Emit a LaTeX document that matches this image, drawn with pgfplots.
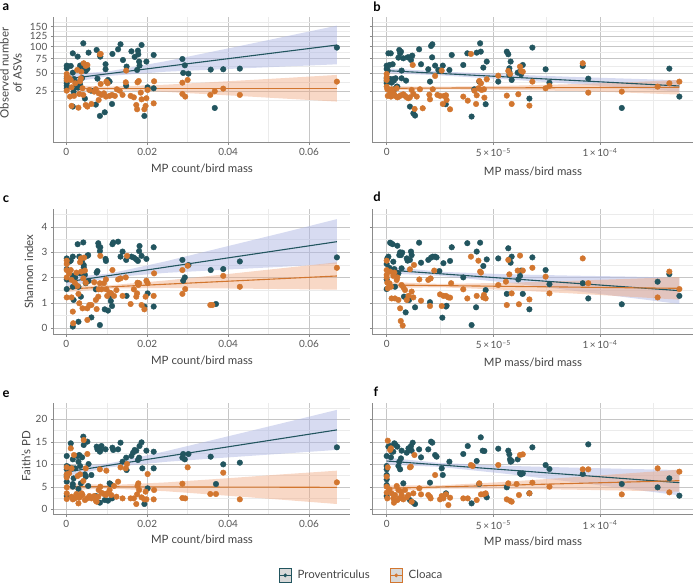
\documentclass[border=0pt]{standalone}
\usepackage{pgfplots}
\usepackage{pgfplotstable}
\pgfplotsset{compat=1.18}
\usepackage{fontspec}
\setmainfont{Lato}
\definecolor{prov}{HTML}{22555F}
\definecolor{cloa}{HTML}{D2762F}
\definecolor{provband}{HTML}{AFB8E4}
\definecolor{cloaband}{HTML}{F0A880}
\definecolor{axisgray}{HTML}{8A8A8A}
\definecolor{gridmaj}{HTML}{C6C6C6}
\definecolor{gridmin}{HTML}{EBEBEB}
\definecolor{ticktxt}{HTML}{555555}
\definecolor{titletxt}{HTML}{444444}
\definecolor{legbg}{HTML}{D9D9D9}

% ---- panel a / b : observed number of ASVs ----
\pgfplotstableread[row sep=\\]{x y\\
0.0001 62.1\\ 0.0001 57.5\\ 0.0001 41.7\\ 0.0001 37.9\\ 0.0001 34.8\\ 0.0001 31.4\\ 0.0001 28.5\\
0.0011 61.5\\ 0.0016 85.7\\ 0.0016 50.3\\ 0.0019 40.7\\ 0.0022 29.7\\ 0.0018 24.6\\ 0.0016 10.8\\
0.0028 79.0\\ 0.0034 62.1\\ 0.0036 62.1\\ 0.0038 55.2\\ 0.0030 36.1\\ 0.0034 33.4\\ 0.0029 29.3\\
0.0039 42.1\\ 0.0042 107.8\\ 0.0043 65.0\\ 0.0046 55.8\\ 0.0048 53.0\\ 0.0046 17.5\\ 0.0052 56.3\\
0.0055 87.1\\ 0.0061 25.7\\ 0.0073 12.3\\ 0.0075 92.8\\ 0.0077 41.2\\ 0.0083 82.3\\ 0.0084 79.0\\
0.0083 5.0\\ 0.0095 7.0\\ 0.0097 64.5\\ 0.0097 55.8\\ 0.0103 39.3\\ 0.0107 37.0\\ 0.0113 12.8\\
0.0114 84.4\\ 0.0128 94.3\\ 0.0134 105.5\\ 0.0140 72.4\\ 0.0149 60.4\\ 0.0148 31.8\\ 0.0161 89.9\\
0.0169 78.3\\ 0.0175 54.6\\ 0.0177 91.4\\ 0.0178 83.7\\ 0.0180 69.4\\ 0.0181 62.1\\ 0.0186 103.9\\
0.0193 5.0\\ 0.0198 69.4\\ 0.0201 29.7\\ 0.0216 82.3\\ 0.0216 28.5\\ 0.0287 74.3\\ 0.0293 62.6\\
0.0289 49.8\\ 0.0302 48.7\\ 0.0357 55.2\\ 0.0367 9.8\\ 0.0388 55.8\\ 0.0429 56.9\\ 0.0669 98.0\\
}\aP
\pgfplotstableread[row sep=\\]{x y\\
0.0001 48.2\\ 0.0001 44.1\\ 0.0001 39.3\\ 0.0001 25.7\\ 0.0007 42.1\\ 0.0011 39.3\\ 0.0013 29.7\\
0.0009 19.4\\ 0.0013 11.3\\ 0.0019 20.1\\ 0.0022 34.8\\ 0.0027 54.6\\ 0.0030 10.0\\ 0.0032 22.1\\
0.0034 37.5\\ 0.0036 41.7\\ 0.0037 51.8\\ 0.0040 28.5\\ 0.0042 21.1\\ 0.0043 66.3\\ 0.0048 61.5\\
0.0052 63.2\\ 0.0048 12.0\\ 0.0052 10.8\\ 0.0057 26.5\\ 0.0062 12.8\\ 0.0069 24.6\\ 0.0073 27.3\\
0.0080 16.2\\ 0.0080 22.8\\ 0.0085 33.9\\ 0.0087 21.1\\ 0.0083 83.7\\ 0.0085 84.4\\ 0.0093 22.8\\
0.0098 19.4\\ 0.0099 37.0\\ 0.0102 34.8\\ 0.0107 20.1\\ 0.0113 21.1\\ 0.0120 20.1\\ 0.0125 27.3\\
0.0132 25.7\\ 0.0139 21.1\\ 0.0147 36.1\\ 0.0148 53.6\\ 0.0159 20.1\\ 0.0167 18.7\\ 0.0173 12.0\\
0.0175 8.9\\ 0.0176 36.1\\ 0.0179 37.9\\ 0.0184 23.5\\ 0.0186 16.8\\ 0.0193 8.9\\ 0.0196 11.3\\
0.0198 17.8\\ 0.0201 26.5\\ 0.0217 37.5\\ 0.0216 13.3\\ 0.0287 35.6\\ 0.0287 22.1\\ 0.0294 19.4\\
0.0300 39.3\\ 0.0356 21.1\\ 0.0367 25.0\\ 0.0388 28.1\\ 0.0429 21.1\\ 0.0669 37.0\\
}\aC
\pgfplotstableread[row sep=\\]{x y\\
0 62.1\\ 0 56.3\\ 0 41.7\\ 0 37.9\\ 0 34.8\\ 0.05e-5 53.6\\ 0.08e-5 85.7\\ 0.13e-5 63.2\\
0.16e-5 40.7\\ 0.19e-5 85.7\\ 0.23e-5 35.6\\ 0.28e-5 64.5\\ 0.31e-5 40.7\\ 0.34e-5 38.4\\
0.36e-5 27.3\\ 0.42e-5 41.7\\ 0.47e-5 30.5\\ 0.50e-5 30.5\\ 0.55e-5 77.0\\ 0.59e-5 92.8\\
0.63e-5 85.7\\ 0.67e-5 89.2\\ 0.70e-5 53.6\\ 0.70e-5 41.7\\ 0.78e-5 75.7\\ 0.91e-5 38.4\\
0.98e-5 77.6\\ 1.05e-5 77.6\\ 1.09e-5 10.8\\ 1.14e-5 72.4\\ 1.20e-5 81.0\\ 1.25e-5 6.4\\
1.33e-5 5.2\\ 1.52e-5 94.3\\ 1.61e-5 64.5\\ 1.95e-5 55.8\\ 2.03e-5 37.0\\ 2.08e-5 101.6\\
2.14e-5 105.5\\ 2.13e-5 77.6\\ 2.27e-5 62.1\\ 2.42e-5 54.6\\ 2.50e-5 53.6\\ 2.63e-5 62.1\\
2.77e-5 12.6\\ 2.94e-5 54.6\\ 3.05e-5 82.3\\ 3.59e-5 63.2\\ 3.78e-5 85.7\\ 3.98e-5 4.7\\
4.11e-5 27.3\\ 4.22e-5 87.1\\ 4.34e-5 37.0\\ 4.38e-5 107.8\\ 4.41e-5 89.2\\ 4.53e-5 58.6\\
4.64e-5 12.6\\ 4.69e-5 69.4\\ 5.23e-5 37.0\\ 5.63e-5 89.2\\ 5.70e-5 83.7\\ 5.75e-5 57.5\\
5.81e-5 69.4\\ 5.75e-5 51.8\\ 5.75e-5 46.7\\ 5.86e-5 39.3\\ 6.14e-5 50.3\\ 6.25e-5 51.8\\
6.30e-5 47.7\\ 6.38e-5 63.2\\ 6.69e-5 17.5\\ 6.83e-5 98.0\\ 7.45e-5 55.8\\ 7.63e-5 35.6\\
9.19e-5 61.5\\ 9.45e-5 41.2\\ 11.02e-5 9.8\\ 13.25e-5 56.9\\ 13.72e-5 19.4\\
}\bP
\pgfplotstableread[row sep=\\]{x y\\
0 48.2\\ 0 43.2\\ 0 39.3\\ 0 30.5\\ 0.03e-5 27.3\\ 0.05e-5 20.1\\ 0.13e-5 26.5\\ 0.16e-5 22.8\\
0.20e-5 19.4\\ 0.23e-5 27.3\\ 0.31e-5 23.5\\ 0.36e-5 21.1\\ 0.39e-5 20.1\\ 0.47e-5 28.5\\
0.50e-5 18.7\\ 0.58e-5 19.4\\ 0.66e-5 20.7\\ 0.78e-5 21.8\\ 0.86e-5 20.1\\ 0.94e-5 18.7\\
1.02e-5 17.8\\ 1.09e-5 18.7\\ 1.17e-5 26.5\\ 1.22e-5 63.2\\ 1.25e-5 22.1\\ 1.31e-5 9.1\\
1.41e-5 19.4\\ 1.56e-5 27.3\\ 1.69e-5 9.6\\ 2.00e-5 21.4\\ 2.03e-5 16.8\\ 2.16e-5 27.3\\
2.27e-5 45.1\\ 2.38e-5 21.1\\ 2.50e-5 20.1\\ 2.58e-5 53.6\\ 2.63e-5 12.8\\ 2.69e-5 20.1\\
2.78e-5 20.7\\ 2.81e-5 16.2\\ 2.97e-5 8.9\\ 3.59e-5 19.4\\ 3.80e-5 15.6\\ 3.95e-5 84.4\\
4.11e-5 25.7\\ 4.19e-5 12.8\\ 4.22e-5 20.7\\ 4.30e-5 28.5\\ 4.34e-5 37.9\\ 4.42e-5 34.8\\
4.45e-5 26.5\\ 4.56e-5 27.3\\ 4.58e-5 18.4\\ 4.69e-5 40.3\\ 5.23e-5 45.6\\ 5.63e-5 20.4\\
5.70e-5 53.0\\ 5.78e-5 48.2\\ 5.86e-5 12.8\\ 6.17e-5 21.8\\ 6.25e-5 60.4\\ 6.30e-5 53.0\\
6.38e-5 51.8\\ 6.69e-5 11.5\\ 6.83e-5 37.0\\ 7.45e-5 28.5\\ 7.63e-5 31.4\\ 9.19e-5 66.3\\
9.45e-5 23.5\\ 11.02e-5 24.6\\ 12.70e-5 30.5\\ 13.25e-5 34.8\\ 13.72e-5 37.0\\
}\bC

% ---- panel c / d : Shannon index ----
\pgfplotstableread[row sep=\\]{x y\\
0.0001 2.76\\ 0.0001 2.34\\ 0.0001 1.93\\ 0.0001 1.55\\ 0.0007 2.63\\ 0.0011 2.67\\ 0.0016 2.83\\
0.0016 2.07\\ 0.0016 1.64\\ 0.0016 0.07\\ 0.0018 1.12\\ 0.0022 2.01\\ 0.0028 3.32\\ 0.0030 1.64\\
0.0030 0.26\\ 0.0032 2.83\\ 0.0034 2.17\\ 0.0036 1.25\\ 0.0039 2.67\\ 0.0042 3.39\\ 0.0043 2.50\\
0.0043 2.41\\ 0.0046 2.11\\ 0.0048 1.78\\ 0.0052 2.86\\ 0.0054 2.89\\ 0.0055 1.87\\ 0.0062 0.43\\
0.0073 1.54\\ 0.0075 2.20\\ 0.0077 2.26\\ 0.0079 3.36\\ 0.0080 3.25\\ 0.0083 3.05\\ 0.0083 0.13\\
0.0084 3.20\\ 0.0097 2.74\\ 0.0098 2.66\\ 0.0095 0.75\\ 0.0103 0.70\\ 0.0107 1.28\\ 0.0110 1.08\\
0.0113 0.88\\ 0.0114 3.32\\ 0.0116 3.39\\ 0.0128 3.42\\ 0.0134 2.83\\ 0.0139 3.03\\ 0.0148 2.70\\
0.0149 1.28\\ 0.0161 2.83\\ 0.0167 2.79\\ 0.0173 2.72\\ 0.0177 2.66\\ 0.0180 3.05\\ 0.0181 3.25\\
0.0186 2.86\\ 0.0193 0.86\\ 0.0198 2.74\\ 0.0201 1.38\\ 0.0216 3.20\\ 0.0216 0.86\\ 0.0287 2.70\\
0.0289 1.88\\ 0.0293 2.01\\ 0.0302 2.50\\ 0.0357 2.30\\ 0.0370 0.96\\ 0.0388 2.34\\ 0.0429 2.64\\
0.0669 2.80\\
}\cP
\pgfplotstableread[row sep=\\]{x y\\
0.0001 2.67\\ 0.0001 2.54\\ 0.0001 2.30\\ 0.0001 2.01\\ 0.0001 1.22\\ 0.0007 2.17\\ 0.0011 2.30\\
0.0013 1.91\\ 0.0013 1.22\\ 0.0016 0.66\\ 0.0017 0.20\\ 0.0021 1.80\\ 0.0025 2.20\\ 0.0028 1.67\\
0.0030 1.36\\ 0.0032 0.99\\ 0.0034 2.61\\ 0.0036 2.76\\ 0.0037 2.24\\ 0.0040 0.79\\ 0.0042 1.97\\
0.0044 2.79\\ 0.0046 2.28\\ 0.0048 1.80\\ 0.0052 0.33\\ 0.0052 0.79\\ 0.0057 0.92\\ 0.0062 0.92\\
0.0069 1.82\\ 0.0073 1.12\\ 0.0075 0.76\\ 0.0079 1.25\\ 0.0080 1.54\\ 0.0083 1.78\\ 0.0084 2.86\\
0.0087 1.54\\ 0.0093 1.78\\ 0.0098 1.93\\ 0.0099 1.54\\ 0.0101 1.28\\ 0.0107 1.41\\ 0.0111 1.38\\
0.0114 2.30\\ 0.0118 1.28\\ 0.0124 1.51\\ 0.0128 1.93\\ 0.0134 1.97\\ 0.0139 1.28\\ 0.0147 2.01\\
0.0150 2.86\\ 0.0159 0.96\\ 0.0167 1.54\\ 0.0173 1.25\\ 0.0175 1.38\\ 0.0176 1.80\\ 0.0178 1.71\\
0.0180 1.78\\ 0.0186 0.92\\ 0.0193 0.75\\ 0.0196 1.25\\ 0.0198 1.88\\ 0.0201 1.78\\ 0.0217 2.17\\
0.0216 1.28\\ 0.0287 2.30\\ 0.0287 1.36\\ 0.0294 1.55\\ 0.0300 2.47\\ 0.0356 0.92\\ 0.0361 0.92\\
0.0388 2.07\\ 0.0429 1.64\\ 0.0669 2.39\\
}\cC
\pgfplotstableread[row sep=\\]{x y\\
0 2.54\\ 0 1.93\\ 0 1.55\\ 0.03e-5 2.76\\ 0.08e-5 2.83\\ 0.13e-5 2.39\\ 0.16e-5 3.38\\
0.20e-5 3.36\\ 0.28e-5 3.32\\ 0.31e-5 2.63\\ 0.36e-5 2.34\\ 0.39e-5 1.64\\ 0.42e-5 2.13\\
0.50e-5 3.26\\ 0.55e-5 2.17\\ 0.59e-5 2.89\\ 0.63e-5 3.00\\ 0.67e-5 2.89\\ 0.70e-5 2.37\\
0.73e-5 2.99\\ 0.81e-5 1.25\\ 0.89e-5 0.63\\ 0.94e-5 2.76\\ 0.98e-5 2.67\\ 1.05e-5 1.12\\
1.09e-5 2.70\\ 1.14e-5 3.03\\ 1.17e-5 2.89\\ 1.33e-5 0.83\\ 1.52e-5 3.38\\ 1.61e-5 2.59\\
1.95e-5 2.70\\ 2.03e-5 1.03\\ 2.08e-5 2.79\\ 2.16e-5 2.83\\ 2.27e-5 2.83\\ 2.34e-5 2.80\\
2.47e-5 2.26\\ 2.61e-5 0.42\\ 2.66e-5 2.57\\ 2.78e-5 0.86\\ 2.81e-5 0.89\\ 2.97e-5 2.66\\
3.05e-5 3.20\\ 3.59e-5 2.01\\ 3.78e-5 3.36\\ 3.98e-5 0.13\\ 4.19e-5 0.83\\ 4.22e-5 3.03\\
4.38e-5 3.38\\ 4.53e-5 2.46\\ 4.64e-5 1.51\\ 4.69e-5 2.72\\ 5.23e-5 2.76\\ 5.63e-5 1.36\\
5.70e-5 3.16\\ 5.75e-5 2.72\\ 5.81e-5 2.59\\ 5.86e-5 2.83\\ 6.17e-5 1.93\\ 6.25e-5 2.07\\
6.30e-5 2.28\\ 6.38e-5 1.36\\ 6.69e-5 0.75\\ 6.83e-5 2.80\\ 7.45e-5 2.30\\ 7.63e-5 1.74\\
9.19e-5 1.78\\ 9.45e-5 1.18\\ 11.02e-5 0.95\\ 12.70e-5 1.84\\ 13.25e-5 2.14\\ 13.72e-5 1.28\\
}\dP
\pgfplotstableread[row sep=\\]{x y\\
0 2.67\\ 0 2.30\\ 0 2.11\\ 0 2.01\\ 0.03e-5 1.80\\ 0.05e-5 1.58\\ 0.13e-5 1.78\\ 0.16e-5 2.24\\
0.20e-5 1.64\\ 0.23e-5 1.18\\ 0.31e-5 2.07\\ 0.36e-5 2.20\\ 0.39e-5 1.18\\ 0.47e-5 1.91\\
0.50e-5 2.01\\ 0.55e-5 1.12\\ 0.63e-5 0.79\\ 0.66e-5 0.29\\ 0.70e-5 1.71\\ 0.75e-5 0.11\\
0.78e-5 1.62\\ 0.86e-5 1.51\\ 0.94e-5 1.12\\ 1.02e-5 1.28\\ 1.09e-5 2.33\\ 1.17e-5 1.45\\
1.25e-5 1.22\\ 1.28e-5 2.50\\ 1.53e-5 1.93\\ 1.61e-5 1.09\\ 1.95e-5 1.91\\ 2.03e-5 0.88\\
2.06e-5 1.97\\ 2.23e-5 2.28\\ 2.50e-5 1.34\\ 2.58e-5 0.88\\ 2.66e-5 1.28\\ 2.78e-5 1.28\\
2.89e-5 1.22\\ 2.97e-5 1.21\\ 3.02e-5 1.78\\ 3.59e-5 1.54\\ 3.78e-5 1.18\\ 3.95e-5 2.83\\
4.22e-5 1.28\\ 4.30e-5 2.67\\ 4.38e-5 2.24\\ 4.42e-5 2.20\\ 4.53e-5 1.22\\ 4.56e-5 1.32\\
4.64e-5 1.18\\ 5.23e-5 1.71\\ 5.59e-5 1.84\\ 5.63e-5 0.92\\ 5.70e-5 2.70\\ 5.75e-5 2.13\\
5.86e-5 1.38\\ 6.14e-5 2.28\\ 6.20e-5 0.95\\ 6.25e-5 2.87\\ 6.38e-5 2.28\\ 6.69e-5 1.14\\
6.83e-5 2.39\\ 7.45e-5 2.04\\ 7.63e-5 1.38\\ 9.19e-5 2.76\\ 9.45e-5 1.78\\ 12.70e-5 1.22\\
13.25e-5 2.24\\ 13.72e-5 1.55\\
}\dC

% ---- panel e / f : Faith's PD ----
\pgfplotstableread[row sep=\\]{x y\\
0.0001 11.85\\ 0.0001 9.63\\ 0.0001 8.89\\ 0.0001 7.63\\ 0.0001 7.26\\ 0.0001 6.15\\ 0.0001 2.96\\
0.0007 9.33\\ 0.0011 14.67\\ 0.0016 11.11\\ 0.0016 9.11\\ 0.0016 5.63\\ 0.0016 5.04\\ 0.0018 6.89\\
0.0022 9.11\\ 0.0028 11.85\\ 0.0030 10.59\\ 0.0030 4.52\\ 0.0032 12.07\\ 0.0034 9.63\\ 0.0036 5.78\\
0.0039 11.56\\ 0.0042 16.15\\ 0.0043 14.30\\ 0.0046 7.78\\ 0.0048 7.26\\ 0.0052 15.04\\ 0.0054 5.19\\
0.0055 10.07\\ 0.0062 7.63\\ 0.0073 2.96\\ 0.0075 13.93\\ 0.0077 13.33\\ 0.0079 13.56\\ 0.0083 12.81\\
0.0083 1.48\\ 0.0084 13.19\\ 0.0087 14.07\\ 0.0095 2.07\\ 0.0097 13.33\\ 0.0103 1.93\\ 0.0107 5.78\\
0.0110 5.56\\ 0.0113 2.44\\ 0.0114 13.70\\ 0.0116 13.19\\ 0.0128 13.33\\ 0.0134 14.81\\ 0.0139 10.59\\
0.0148 11.48\\ 0.0149 8.74\\ 0.0161 11.85\\ 0.0165 12.59\\ 0.0169 13.19\\ 0.0173 13.04\\ 0.0177 10.96\\
0.0180 11.48\\ 0.0181 14.07\\ 0.0186 14.89\\ 0.0188 9.11\\ 0.0193 1.19\\ 0.0198 13.04\\ 0.0201 4.67\\
0.0216 12.81\\ 0.0216 9.11\\ 0.0287 11.48\\ 0.0289 12.30\\ 0.0293 11.11\\ 0.0302 12.30\\ 0.0357 11.70\\
0.0370 5.63\\ 0.0388 10.00\\ 0.0429 10.37\\ 0.0669 13.78\\
}\eP
\pgfplotstableread[row sep=\\]{x y\\
0.0001 9.33\\ 0.0001 7.78\\ 0.0001 7.11\\ 0.0001 4.89\\ 0.0001 3.56\\ 0.0001 2.30\\ 0.0007 8.00\\
0.0011 13.56\\ 0.0013 9.11\\ 0.0013 2.81\\ 0.0016 2.22\\ 0.0019 12.07\\ 0.0021 2.44\\ 0.0025 3.41\\
0.0028 7.41\\ 0.0030 1.33\\ 0.0032 2.59\\ 0.0034 7.78\\ 0.0036 2.96\\ 0.0038 3.56\\ 0.0040 3.19\\
0.0042 6.30\\ 0.0043 15.41\\ 0.0046 2.07\\ 0.0048 9.11\\ 0.0052 12.30\\ 0.0052 2.44\\ 0.0057 2.96\\
0.0062 2.44\\ 0.0069 2.96\\ 0.0073 1.93\\ 0.0075 1.70\\ 0.0079 2.81\\ 0.0080 4.30\\ 0.0083 8.89\\
0.0084 5.04\\ 0.0087 3.70\\ 0.0093 3.41\\ 0.0098 3.19\\ 0.0099 8.59\\ 0.0101 3.56\\ 0.0107 4.30\\
0.0111 3.19\\ 0.0118 5.19\\ 0.0124 2.81\\ 0.0128 6.15\\ 0.0134 9.33\\ 0.0139 2.44\\ 0.0147 9.11\\
0.0150 10.07\\ 0.0159 2.44\\ 0.0167 2.44\\ 0.0173 1.19\\ 0.0175 3.33\\ 0.0176 5.19\\ 0.0178 5.78\\
0.0180 4.30\\ 0.0186 2.67\\ 0.0193 2.22\\ 0.0196 3.93\\ 0.0198 2.22\\ 0.0201 7.85\\ 0.0217 4.30\\
0.0216 2.22\\ 0.0287 5.70\\ 0.0287 2.52\\ 0.0294 2.44\\ 0.0300 9.33\\ 0.0356 3.41\\ 0.0370 3.41\\
0.0388 8.15\\ 0.0429 2.22\\ 0.0669 6.00\\
}\eC
\pgfplotstableread[row sep=\\]{x y\\
0 11.85\\ 0 9.63\\ 0 8.89\\ 0 7.63\\ 0 6.67\\ 0 5.41\\ 0 2.96\\ 0.08e-5 13.93\\ 0.16e-5 14.07\\
0.20e-5 11.56\\ 0.23e-5 12.81\\ 0.31e-5 12.81\\ 0.36e-5 14.67\\ 0.42e-5 14.30\\ 0.50e-5 13.93\\
0.55e-5 9.63\\ 0.59e-5 10.59\\ 0.63e-5 8.89\\ 0.67e-5 11.33\\ 0.70e-5 13.04\\ 0.78e-5 5.78\\
0.94e-5 12.59\\ 1.02e-5 13.56\\ 1.05e-5 13.19\\ 1.09e-5 2.07\\ 1.14e-5 14.07\\ 1.17e-5 13.04\\
1.22e-5 14.81\\ 1.25e-5 1.48\\ 1.33e-5 1.19\\ 1.52e-5 13.33\\ 1.61e-5 11.56\\ 1.95e-5 13.33\\
2.03e-5 5.93\\ 2.08e-5 15.04\\ 2.14e-5 14.81\\ 2.27e-5 12.07\\ 2.34e-5 11.70\\ 2.58e-5 9.11\\
2.63e-5 7.63\\ 2.78e-5 3.56\\ 2.94e-5 10.59\\ 3.59e-5 12.30\\ 3.80e-5 14.07\\ 3.98e-5 1.33\\
4.22e-5 10.74\\ 4.34e-5 5.63\\ 4.41e-5 16.00\\ 4.50e-5 13.04\\ 4.58e-5 12.96\\ 4.64e-5 3.19\\
4.69e-5 2.67\\ 5.23e-5 13.48\\ 5.63e-5 4.89\\ 5.70e-5 13.04\\ 5.75e-5 12.22\\ 5.81e-5 10.59\\
5.78e-5 11.11\\ 5.86e-5 10.74\\ 6.14e-5 11.11\\ 6.25e-5 8.00\\ 6.30e-5 7.78\\ 6.38e-5 8.00\\
6.69e-5 3.56\\ 6.83e-5 13.78\\ 7.45e-5 9.85\\ 7.63e-5 8.96\\ 9.19e-5 7.85\\ 9.45e-5 14.44\\
11.02e-5 5.63\\ 12.70e-5 4.89\\ 13.25e-5 6.89\\ 13.72e-5 3.04\\
}\fP
\pgfplotstableread[row sep=\\]{x y\\
0.05e-5 15.26\\ 0.05e-5 9.33\\ 0 7.26\\ 0 5.04\\ 0 3.70\\ 0.03e-5 2.44\\ 0.13e-5 4.44\\
0.16e-5 13.19\\ 0.20e-5 13.56\\ 0.23e-5 3.56\\ 0.31e-5 2.44\\ 0.34e-5 1.48\\ 0.39e-5 3.19\\
0.47e-5 5.19\\ 0.50e-5 2.07\\ 0.55e-5 4.30\\ 0.59e-5 2.44\\ 0.67e-5 3.93\\ 0.70e-5 3.19\\
0.78e-5 2.22\\ 0.86e-5 4.30\\ 0.94e-5 2.67\\ 1.02e-5 3.19\\ 1.09e-5 9.33\\ 1.13e-5 9.48\\
1.17e-5 1.70\\ 1.25e-5 3.56\\ 1.30e-5 12.07\\ 1.53e-5 4.67\\ 1.61e-5 3.33\\ 1.95e-5 3.19\\
2.03e-5 2.81\\ 2.06e-5 2.44\\ 2.27e-5 7.63\\ 2.50e-5 2.22\\ 2.58e-5 2.96\\ 2.66e-5 2.44\\
2.78e-5 3.33\\ 2.89e-5 0.96\\ 2.97e-5 2.59\\ 3.59e-5 2.44\\ 3.80e-5 2.44\\ 3.95e-5 9.85\\
4.03e-5 9.63\\ 4.22e-5 2.07\\ 4.34e-5 5.78\\ 4.42e-5 3.33\\ 4.53e-5 3.33\\ 4.64e-5 3.56\\
5.23e-5 9.85\\ 5.63e-5 2.22\\ 5.70e-5 5.78\\ 5.78e-5 1.93\\ 5.86e-5 1.70\\ 6.09e-5 5.63\\
6.20e-5 3.19\\ 6.25e-5 12.07\\ 6.38e-5 12.22\\ 6.69e-5 3.56\\ 6.83e-5 5.93\\ 7.63e-5 5.04\\
9.19e-5 8.89\\ 9.45e-5 8.89\\ 11.02e-5 3.33\\ 12.70e-5 9.11\\ 13.25e-5 3.78\\ 13.72e-5 8.37\\
}\fC

\pgfplotsset{
  base/.style={
    scale only axis, anchor=north west,
    axis x line*=bottom, axis y line*=left,
    axis line style={draw=axisgray, line width=0.6bp},
    every tick/.style={draw=axisgray, line width=0.5bp},
    tick align=outside, major tick length=2.5bp, minor tick length=0pt,
    grid=both,
    major grid style={draw=gridmaj, line width=0.6bp},
    minor grid style={draw=gridmin, line width=0.45bp},
    tick label style={font=\fontsize{10}{12}\selectfont, text=ticktxt},
    /pgf/number format/assume math mode=true,
    scaled x ticks=false, scaled y ticks=false,
  },
  leftp/.style={base, width=296.7bp, xmin=-0.00322, xmax=0.07014,
    xtick={0,0.02,0.04,0.06}, xticklabels={0,0.02,0.04,0.06},
    minor xtick={0.01,0.03,0.05}},
  rightp/.style={base, width=320.7bp, xmin=-6.74e-6, xmax=1.4359e-4,
    xtick={0,5e-5,1e-4},
    xticklabels={0, 5\,×\,10\textsuperscript{–5}, 1\,×\,10\textsuperscript{–4}},
    minor xtick={2.5e-5,7.5e-5,1.25e-4}},
  row1/.style={height=125.3bp, ymin=-0.72, ymax=13.33,
    ytick={5,7.0711,8.6603,10,11.1803,12.2474},
    yticklabels={25,50,75,100,125,150},
    minor ytick={3.96,6.036,7.866,9.330,10.590,11.714,12.78}},
  row2/.style={height=125bp, ymin=-0.224, ymax=4.71,
    ytick={0,1,2,3,4}, minor ytick={0.5,1.5,2.5,3.5,4.5}},
  row3/.style={height=111.4bp, ymin=-1.19, ymax=23.56,
    ytick={0,5,10,15,20}, minor ytick={2.5,7.5,12.5,17.5,22.5}},
  pband/.style={fill=provband, draw=none, fill opacity=0.5},
  cband/.style={fill=cloaband, draw=none, fill opacity=0.45},
  ppts/.style={only marks, mark=*, mark size=2.8bp, color=prov},
  cpts/.style={only marks, mark=*, mark size=2.8bp, color=cloa},
  pline/.style={no marks, draw=prov, line width=1.1bp},
  cline/.style={no marks, draw=cloa, line width=1.1bp},
}

\begin{document}
\begin{tikzpicture}
\path[use as bounding box] (0,0) rectangle (694bp,-585bp);

% a
\begin{axis}[leftp, row1, at={(53.3bp,-17bp)}]
\addplot[pband] table[y expr=sqrt(\thisrow{y}), row sep=\\]{x y\\ 0 47.2\\ 0.0107 52.6\\ 0.0247 70.3\\ 0.0411 98.2\\ 0.0534 122.6\\ 0.0669 152.7\\ 0.0669 64.4\\ 0.0534 60.3\\ 0.0411 56.6\\ 0.0247 51.8\\ 0.0107 45.3\\ 0 34.8\\};
\addplot[cband] table[y expr=sqrt(\thisrow{y}), row sep=\\]{x y\\ 0 32.2\\ 0.0107 30.5\\ 0.0247 33.0\\ 0.0411 37.9\\ 0.0534 41.9\\ 0.0669 46.7\\ 0.0669 14.8\\ 0.0534 17.6\\ 0.0411 20.4\\ 0.0247 24.3\\ 0.0107 26.5\\ 0 25.0\\};
\addplot[ppts] table[y expr=sqrt(\thisrow{y})]{\aP};
\addplot[cpts] table[y expr=sqrt(\thisrow{y})]{\aC};
\addplot[pline] table[y expr=sqrt(\thisrow{y}), row sep=\\]{x y\\ 0 40.7\\ 0.0669 103.8\\};
\addplot[cline] table[y expr=sqrt(\thisrow{y}), row sep=\\]{x y\\ 0 28.5\\ 0.0669 28.5\\};
\end{axis}

% b
\begin{axis}[rightp, row1, yticklabels={}, at={(372.3bp,-17bp)}]
\addplot[pband] table[y expr=sqrt(\thisrow{y}), row sep=\\]{x y\\ 0 57.4\\ 2.5e-5 52.2\\ 5.625e-5 47.5\\ 8.75e-5 43.7\\ 11.09e-5 41.4\\ 13.72e-5 38.9\\ 13.72e-5 24.6\\ 11.09e-5 29.4\\ 8.75e-5 34.0\\ 5.625e-5 40.1\\ 2.5e-5 46.0\\ 0 49.8\\};
\addplot[cband] table[y expr=sqrt(\thisrow{y}), row sep=\\]{x y\\ 0 30.9\\ 2.5e-5 30.4\\ 5.625e-5 31.5\\ 8.75e-5 33.7\\ 11.09e-5 35.9\\ 13.72e-5 39.3\\ 13.72e-5 21.4\\ 11.09e-5 23.7\\ 8.75e-5 25.2\\ 5.625e-5 26.7\\ 2.5e-5 27.2\\ 0 26.1\\};
\addplot[ppts] table[y expr=sqrt(\thisrow{y})]{\bP};
\addplot[cpts] table[y expr=sqrt(\thisrow{y})]{\bC};
\addplot[pline] table[y expr=sqrt(\thisrow{y}), row sep=\\]{x y\\ 0 53.5\\ 13.72e-5 31.3\\};
\addplot[cline] table[y expr=sqrt(\thisrow{y}), row sep=\\]{x y\\ 0 28.5\\ 13.72e-5 29.7\\};
\end{axis}

% c
\begin{axis}[leftp, row2, at={(53.3bp,-209bp)}]
\addplot[pband] table[row sep=\\]{x y\\ 0 2.01\\ 0.0107 2.16\\ 0.0247 2.65\\ 0.0411 3.29\\ 0.0534 3.77\\ 0.0669 4.31\\ 0.0669 2.545\\ 0.0534 2.43\\ 0.0411 2.33\\ 0.0247 2.19\\ 0.0107 2.005\\ 0 1.64\\};
\addplot[cband] table[row sep=\\]{x y\\ 0 1.674\\ 0.0107 1.700\\ 0.0247 1.891\\ 0.0411 2.163\\ 0.0534 2.374\\ 0.0669 2.605\\ 0.0669 1.526\\ 0.0534 1.55\\ 0.0411 1.571\\ 0.0247 1.593\\ 0.0107 1.568\\ 0 1.432\\};
\addplot[ppts] table{\cP};
\addplot[cpts] table{\cC};
\addplot[pline] coordinates {(0,1.83) (0.0669,3.42)};
\addplot[cline] coordinates {(0,1.553) (0.0669,2.066)};
\end{axis}

% d
\begin{axis}[rightp, row2, yticklabels={}, at={(372.3bp,-209bp)}]
\addplot[pband] table[row sep=\\]{x y\\ 0 2.443\\ 2.5e-5 2.233\\ 5.625e-5 2.133\\ 8.75e-5 2.080\\ 11.09e-5 2.047\\ 13.72e-5 2.0\\ 13.72e-5 0.961\\ 11.09e-5 1.24\\ 8.75e-5 1.486\\ 5.625e-5 1.804\\ 2.5e-5 2.075\\ 0 2.161\\};
\addplot[cband] table[row sep=\\]{x y\\ 0 1.829\\ 2.5e-5 1.753\\ 5.625e-5 1.796\\ 8.75e-5 1.879\\ 11.09e-5 1.947\\ 13.72e-5 2.026\\ 13.72e-5 1.132\\ 11.09e-5 1.261\\ 8.75e-5 1.374\\ 5.625e-5 1.517\\ 2.5e-5 1.621\\ 0 1.592\\};
\addplot[ppts] table{\dP};
\addplot[cpts] table{\dC};
\addplot[pline] coordinates {(0,2.303) (13.72e-5,1.487)};
\addplot[cline] coordinates {(0,1.711) (13.72e-5,1.579)};
\end{axis}

% e
\begin{axis}[leftp, row3, at={(53.3bp,-403.3bp)},
  legend style={at={(1.039,-0.545)}, anchor=center, draw=none, fill=none,
    legend columns=2, font=\fontsize{11.5}{13.5}\selectfont, text=titletxt,
    /tikz/every odd column/.append style={column sep=4bp},
    /tikz/every even column/.append style={column sep=18bp}},
  legend cell align=left]
\addlegendimage{legend image code/.code={
  \draw[draw=prov, fill=legbg, line width=0.9bp] (0bp,-7bp) rectangle (12bp,7bp);
  \draw[prov, line width=1.1bp] (0.5bp,0bp) -- (11.5bp,0bp);
  \fill[prov] (6bp,0bp) circle (1.7bp);}}
\addlegendentry{Proventriculus}
\addlegendimage{legend image code/.code={
  \draw[draw=cloa, fill=legbg, line width=0.9bp] (0bp,-7bp) rectangle (12bp,7bp);
  \draw[cloa, line width=1.1bp] (0.5bp,0bp) -- (11.5bp,0bp);
  \fill[cloa] (6bp,0bp) circle (1.7bp);}}
\addlegendentry{Cloaca}
\addplot[pband] table[row sep=\\]{x y\\ 0 9.24\\ 0.0107 10.23\\ 0.0247 12.93\\ 0.0411 16.47\\ 0.0534 19.14\\ 0.0669 22.1\\ 0.0669 13.21\\ 0.0534 12.37\\ 0.0411 11.61\\ 0.0247 10.56\\ 0.0107 9.34\\ 0 7.35\\};
\addplot[cband] table[row sep=\\]{x y\\ 0 5.83\\ 0.0107 5.39\\ 0.0247 5.99\\ 0.0411 6.99\\ 0.0534 7.78\\ 0.0669 8.59\\ 0.0669 1.19\\ 0.0534 2.13\\ 0.0411 2.95\\ 0.0247 4.02\\ 0.0107 4.64\\ 0 4.24\\};
\addplot[ppts] table{\eP};
\addplot[cpts] table{\eC};
\addplot[pline] coordinates {(0,8.30) (0.0669,17.65)};
\addplot[cline] coordinates {(0,5.04) (0.0669,4.89)};
\end{axis}

% f
\begin{axis}[rightp, row3, yticklabels={}, at={(372.3bp,-403.3bp)}]
\addplot[pband] table[row sep=\\]{x y\\ 0 11.50\\ 2.5e-5 10.31\\ 5.625e-5 9.66\\ 8.75e-5 9.27\\ 11.09e-5 9.01\\ 13.72e-5 8.74\\ 13.72e-5 3.11\\ 11.09e-5 4.69\\ 8.75e-5 6.08\\ 5.625e-5 7.88\\ 2.5e-5 9.42\\ 0 9.98\\};
\addplot[cband] table[row sep=\\]{x y\\ 0 5.30\\ 2.5e-5 5.33\\ 5.625e-5 6.13\\ 8.75e-5 7.14\\ 11.09e-5 7.92\\ 13.72e-5 8.81\\ 13.72e-5 3.93\\ 11.09e-5 4.17\\ 8.75e-5 4.37\\ 5.625e-5 4.59\\ 2.5e-5 4.61\\ 0 4.01\\};
\addplot[ppts] table{\fP};
\addplot[cpts] table{\fC};
\addplot[pline] coordinates {(0,10.74) (13.72e-5,5.93)};
\addplot[cline] coordinates {(0,4.67) (13.72e-5,6.37)};
\end{axis}

% axis titles and panel letters
\begin{scope}[every node/.style={font=\fontsize{11.5}{13}\selectfont, text=titletxt}]
\node[rotate=90, align=center] at (11bp,-73bp) {Observed number\\of ASVs};
\node[rotate=90] at (29bp,-271.5bp) {Shannon index};
\node[rotate=90] at (26bp,-456bp) {Faith's PD};
\node at (202bp,-169bp) {MP count/bird mass};
\node at (533bp,-171.5bp) {MP mass/bird mass};
\node at (202bp,-360.5bp) {MP count/bird mass};
\node at (533bp,-362.5bp) {MP mass/bird mass};
\node at (202bp,-539.5bp) {MP count/bird mass};
\node at (533bp,-542bp) {MP mass/bird mass};
\end{scope}
\begin{scope}[every node/.style={font=\fontsize{13}{15}\selectfont\bfseries}]
\node at (6bp,-7.5bp) {a};
\node at (377bp,-7bp) {b};
\node at (6bp,-199bp) {c};
\node at (377bp,-197bp) {d};
\node at (6bp,-394bp) {e};
\node at (376bp,-392bp) {f};
\end{scope}
\end{tikzpicture}
\end{document}
